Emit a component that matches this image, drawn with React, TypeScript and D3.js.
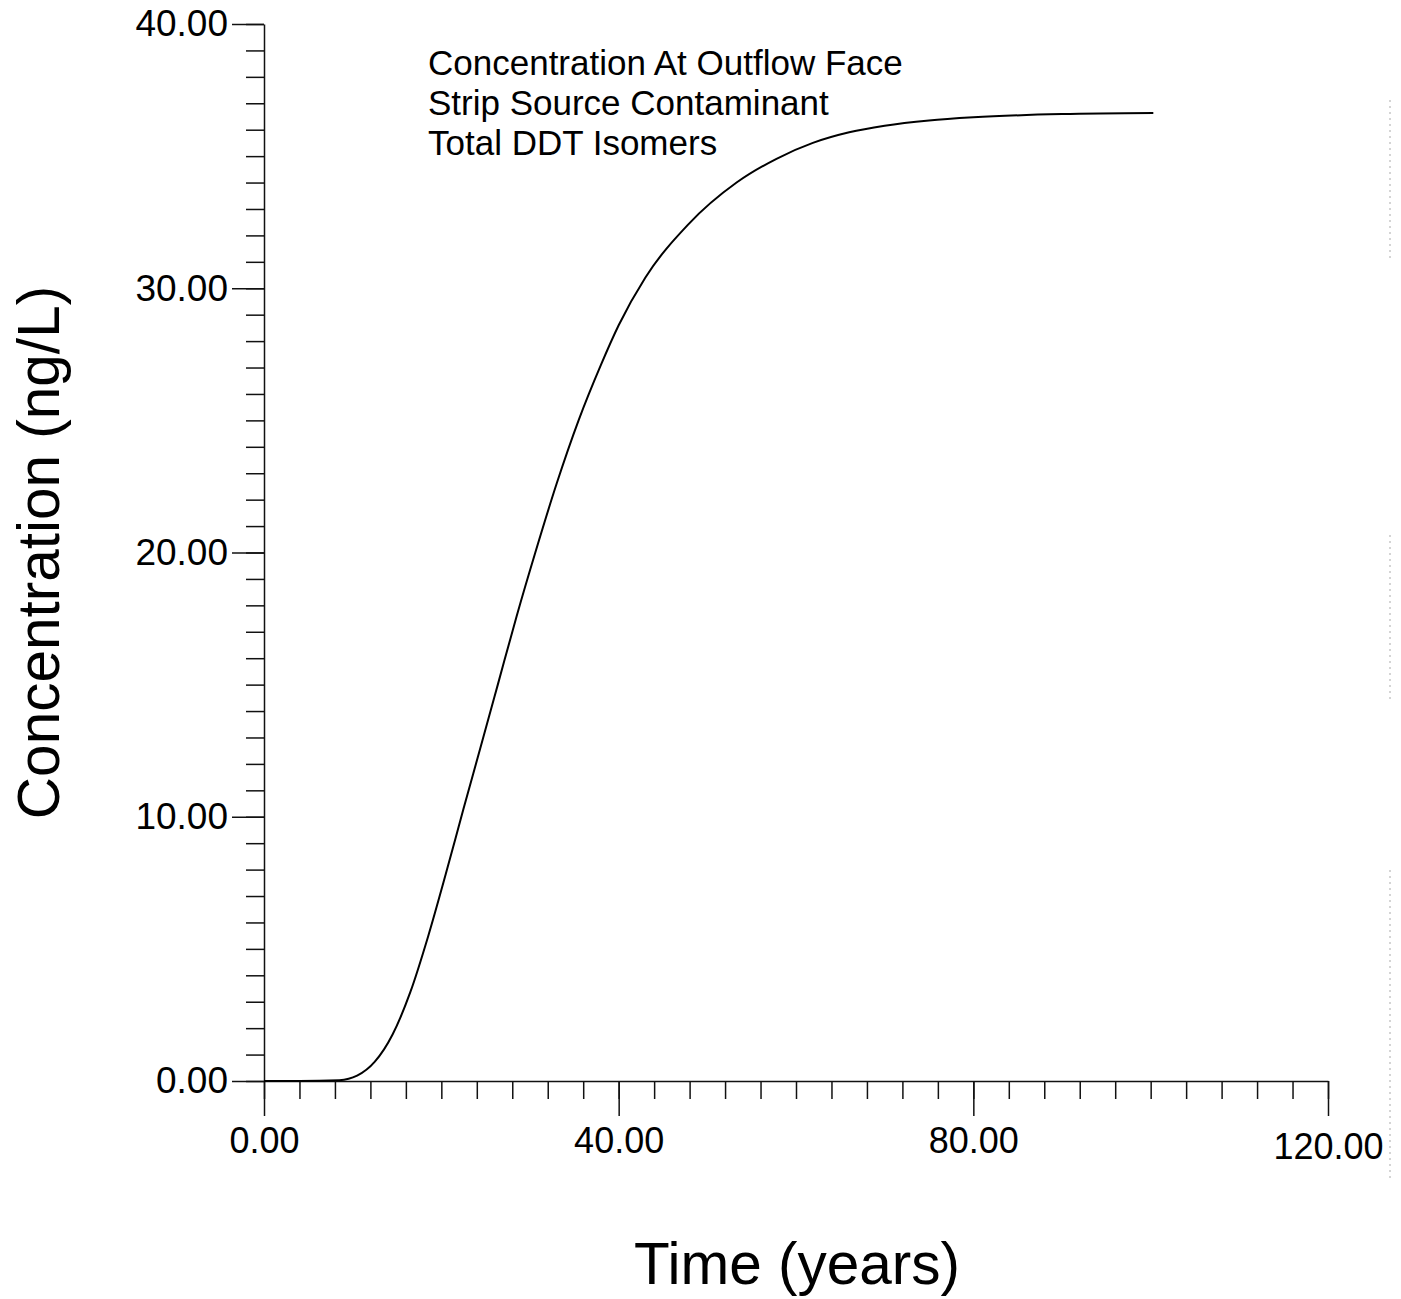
import React, {FC, useEffect, useRef} from 'react';
import * as d3 from 'd3';

// concentration at outflow face
const timeYears = [
  0, 4, 8.5, 10.5, 12.5, 14.5, 16.5, 18.5, 20.5, 22.5, 24.4, 26.37, 28.5,
  30.6, 33.0, 35.48, 38.0, 40.0, 43.0, 47.8, 53.3, 57.8, 61.9, 66, 70, 75, 80,
  90, 100.3,
];
const concNgL = [
  0, 0, 0.03, 0.2, 0.73, 1.76, 3.36, 5.46, 7.83, 10.3, 12.6, 15.0, 17.6, 20.0,
  22.6, 25.0, 27.1, 28.6, 30.4, 32.4, 34.0, 34.9, 35.5, 35.9, 36.15, 36.35,
  36.47, 36.59, 36.63,
];

const xMajorTicks = [0, 40, 80, 120];
const yMajorTicks = [0, 10, 20, 30, 40];
const noteLines = [
  'Concentration At Outflow Face',
  'Strip Source Contaminant',
  'Total DDT Isomers',
];

const FONT = "'Liberation Sans', Arial, Helvetica, sans-serif";

const App: FC = () => {
  const ref = useRef<SVGSVGElement>(null);
  const width = 1401,
    height = 1299;

  useEffect(() => {
    const svg = d3.select(ref.current);
    svg.selectAll('*').remove();

    const x = d3.scaleLinear().domain([0, 120]).range([264, 1328]);
    const y = d3.scaleLinear().domain([0, 40]).range([1081, 24]);

    // Y axis: minor ticks every 1, major every 10
    svg
      .append('g')
      .attr('transform', `translate(${x(0)},0)`)
      .call(
        d3
          .axisLeft(y)
          .tickValues(d3.range(0, 41, 1))
          .tickSize(18)
          .tickFormat(() => '')
      )
      .call(g => g.select('.domain').remove());
    const yAxis = svg
      .append('g')
      .attr('transform', `translate(${x(0)},0)`)
      .call(
        d3
          .axisLeft(y)
          .tickValues(yMajorTicks)
          .tickSize(32)
          .tickSizeOuter(0)
          .tickPadding(4)
          .tickFormat(d3.format('.2f') as any)
      );
    yAxis.selectAll('text').attr('font-size', 37).attr('font-family', FONT).attr('fill', '#000');

    // X axis: minor ticks every 4, major every 40
    svg
      .append('g')
      .attr('transform', `translate(0,${y(0)})`)
      .call(
        d3
          .axisBottom(x)
          .tickValues(d3.range(0, 121, 4))
          .tickSize(18)
          .tickFormat(() => '')
      )
      .call(g => g.select('.domain').remove());
    const xAxis = svg
      .append('g')
      .attr('transform', `translate(0,${y(0)})`)
      .call(
        d3
          .axisBottom(x)
          .tickValues(xMajorTicks)
          .tickSize(35)
          .tickSizeOuter(0)
          .tickPadding(11)
          .tickFormat(d3.format('.2f') as any)
      );
    xAxis.selectAll('text').attr('font-size', 36).attr('font-family', FONT).attr('fill', '#000');
    xAxis
      .selectAll('text')
      .filter((d: any) => d === 120)
      .attr('y', 52);

    svg.selectAll('.domain, .tick line').attr('stroke', '#111').attr('stroke-width', 1.5);

    // curve
    const line = d3
      .line<number>()
      .x((_, i) => x(timeYears[i]))
      .y(d => y(d))
      .curve(d3.curveMonotoneX);
    svg
      .append('path')
      .datum(concNgL)
      .attr('fill', 'none')
      .attr('stroke', '#000')
      .attr('stroke-width', 2)
      .attr('d', line);

    // notes
    svg
      .append('g')
      .selectAll('text')
      .data(noteLines)
      .enter()
      .append('text')
      .attr('x', 428)
      .attr('y', (_, i) => 75 + i * 40)
      .attr('font-size', 35)
      .attr('font-family', FONT)
      .text(d => d);

    // axis titles
    svg
      .append('text')
      .attr('transform', `translate(59,${(y(0) + y(40)) / 2})rotate(-90)`)
      .attr('text-anchor', 'middle')
      .attr('font-size', 58.5)
      .attr('font-family', FONT)
      .text('Concentration (ng/L)');
    svg
      .append('text')
      .attr('x', 797)
      .attr('y', 1284)
      .attr('text-anchor', 'middle')
      .attr('font-size', 58.5)
      .attr('font-family', FONT)
      .text('Time (years)');

    // faint scan marks on right edge
    [
      [100, 260],
      [535, 700],
      [870, 1180],
    ].forEach(([a, b]) =>
      svg
        .append('line')
        .attr('x1', 1390)
        .attr('x2', 1390)
        .attr('y1', a)
        .attr('y2', b)
        .attr('stroke', '#aaa')
        .attr('stroke-dasharray', '2 4')
    );
  }, []);

  return (
    <svg
      ref={ref}
      width={width}
      height={height}
      style={{position: 'absolute', left: 0, top: 0, background: '#fff'}}
    />
  );
};

export default App;
